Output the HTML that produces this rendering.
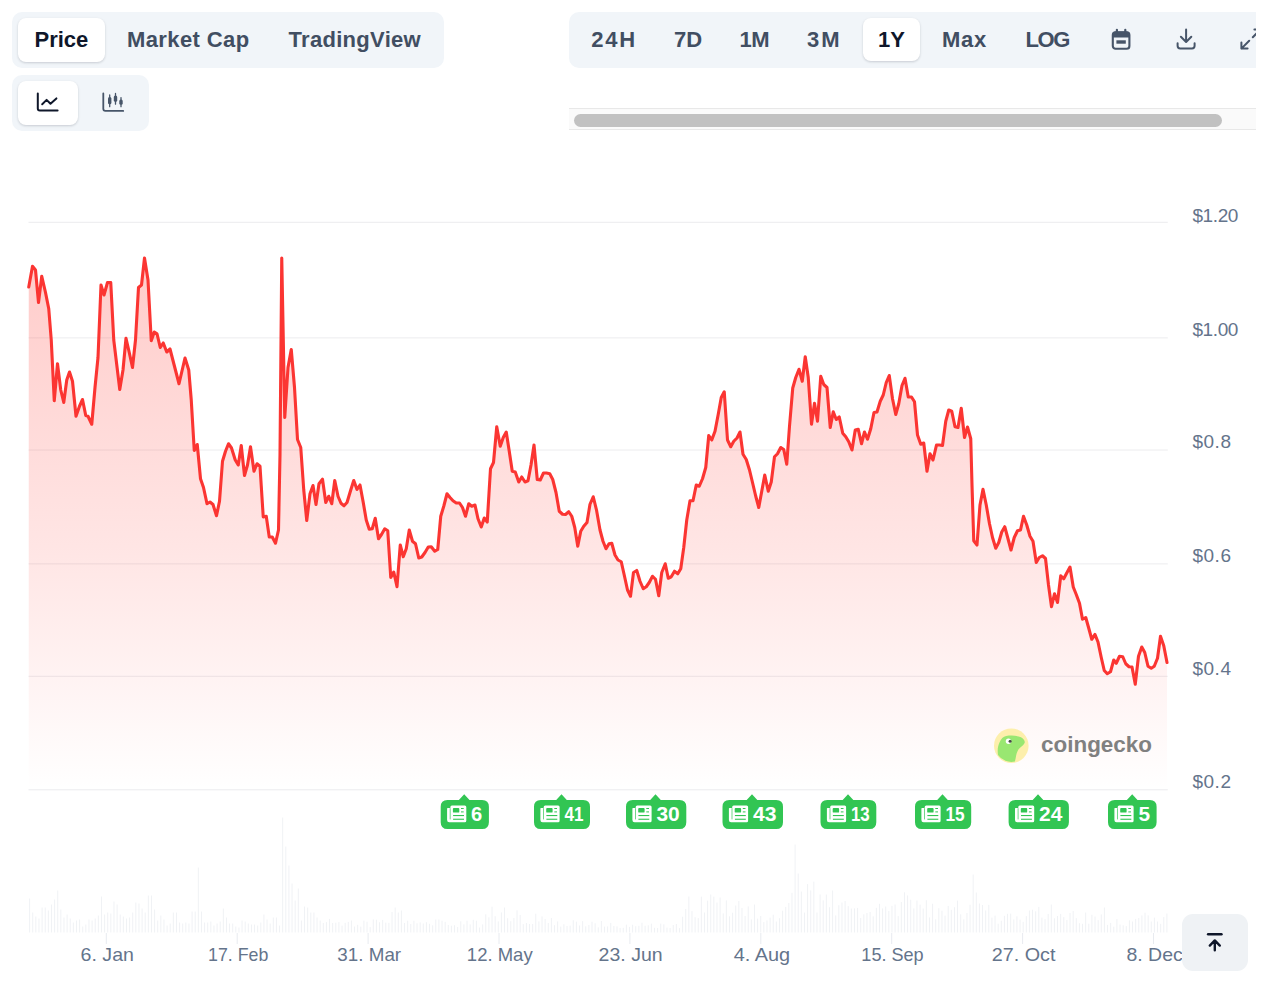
<!DOCTYPE html>
<html><head><meta charset="utf-8"><title>chart</title>
<style>
html,body{margin:0;padding:0;background:#fff;}
body{width:1280px;height:992px;position:relative;overflow:hidden;font-family:"Liberation Sans",sans-serif;}
.grp{position:absolute;background:#f1f5f9;border-radius:10px;}
.act{position:absolute;background:#fff;border-radius:8px;box-shadow:0 1px 3px rgba(15,23,42,.12),0 1px 2px rgba(15,23,42,.06);}
.t{position:absolute;font-weight:700;font-size:22px;line-height:26px;color:#414e62;white-space:nowrap;top:27px;}
.t.on{color:#0f172a;}
.ico{position:absolute;}
</style></head><body>
<!-- tab group -->
<div class="grp" style="left:12px;top:11.5px;width:432px;height:56px"></div>
<div class="act" style="left:18px;top:17.5px;width:87px;height:44px"></div>
<span class="t on" style="left:34.5px">Price</span>
<span class="t" style="left:127px;letter-spacing:0.4px">Market Cap</span>
<span class="t" style="left:288.5px;letter-spacing:0.3px">TradingView</span>

<!-- chart type group -->
<div class="grp" style="left:12px;top:75px;width:137px;height:55.5px"></div>
<div class="act" style="left:18px;top:81px;width:59.5px;height:43.5px"></div>
<svg class="ico" style="left:36px;top:90px" width="24" height="24" viewBox="0 0 24 24" fill="none" stroke="#0f172a" stroke-width="2" stroke-linecap="round" stroke-linejoin="round"><path d="M1.8,3.6 V18.6 Q1.8,20.6 3.8,20.6 H21.6"/><path d="M6.2,14.2 L10.6,9.9 L14.5,13.8 L20.4,8.4"/></svg>
<svg class="ico" style="left:100.5px;top:90px" width="24" height="24" viewBox="0 0 24 24" fill="none" stroke="#475569" stroke-width="1.8" stroke-linecap="round" stroke-linejoin="round"><path d="M2.3,3.4 V18.8 Q2.3,20.9 4.4,20.9 H22.2"/><path d="M8.7,5 V16.7 M14.5,3.5 V14.2 M20,7.6 V16.7" stroke-width="1.3"/><rect x="7.0" y="7" width="3.4" height="7.2" rx="1.5" fill="#475569" stroke="none"/><rect x="12.8" y="5.4" width="3.4" height="6.4" rx="1.5" fill="#475569" stroke="none"/><rect x="18.3" y="9.5" width="3.4" height="5.2" rx="1.5" fill="#475569" stroke="none"/></svg>

<!-- range group (clipped at 1256) -->
<div style="position:absolute;left:568.5px;top:0;width:687.5px;height:140px;overflow:hidden">
  <div class="grp" style="left:0;top:11.5px;width:760px;height:56px"></div>
  <div class="act" style="left:294px;top:18px;width:57.5px;height:43px"></div>
  <span class="t" style="left:22.8px;letter-spacing:1.8px">24H</span>
  <span class="t" style="left:105.5px">7D</span>
  <span class="t" style="left:171px;letter-spacing:-0.6px">1M</span>
  <span class="t" style="left:238.5px;letter-spacing:2px">3M</span>
  <span class="t on" style="left:309.5px">1Y</span>
  <span class="t" style="left:373.5px;letter-spacing:0.7px">Max</span>
  <span class="t" style="left:457px;letter-spacing:-1.4px">LOG</span>
  <svg class="ico" style="left:540px;top:27px" width="24" height="24" viewBox="0 0 24 24" fill="none" stroke="#475569" stroke-width="2.1" stroke-linejoin="round" stroke-linecap="round"><rect x="3.8" y="5.2" width="16.6" height="16.6" rx="2.8"/><path d="M4,9.9 V7.8 Q4,5.2 6.6,5.2 H17.6 Q20.2,5.2 20.2,7.8 V9.9 Z" fill="#475569" stroke-width="1.4"/><path d="M7.9,2.8 V5.4 M16.3,2.8 V5.4" stroke-width="2.2"/><rect x="7.4" y="13.3" width="9.4" height="3.4" fill="#475569" stroke="none"/></svg>
  <svg class="ico" style="left:605.5px;top:27px" width="24" height="24" viewBox="0 0 24 24" fill="none" stroke="#475569" stroke-width="2" stroke-linejoin="round" stroke-linecap="round"><path d="M12.1,2.6 V14.8 M6.9,9.8 L12.1,15 L17.3,9.8"/><path d="M3.6,16.2 V18.8 Q3.6,21.4 6.2,21.4 H18 Q20.6,21.4 20.6,18.8 V16.2"/></svg>
  <svg class="ico" style="left:670.9px;top:27px" width="24" height="24" viewBox="0 0 24 24" fill="none" stroke="#475569" stroke-width="2" stroke-linejoin="round" stroke-linecap="round"><path d="M2.4,15.4 V21.6 H8.6 M2.4,21.6 L10.2,13.8 M15.4,2.4 H21.6 V8.6 M21.6,2.4 L13.8,10.2"/></svg>
  <!-- scrollbar -->
  <div style="position:absolute;left:0;top:108px;width:760px;height:22px;background:#fafafa;border-top:1px solid #e8e8e8;border-bottom:1px solid #e8e8e8;box-sizing:border-box"></div>
  <div style="position:absolute;left:5px;top:114px;width:648.5px;height:12.5px;border-radius:7px;background:#c1c1c1"></div>
</div>

<svg id="chart" width="1280" height="992" viewBox="0 0 1280 992" style="position:absolute;left:0;top:0">
<defs>
<linearGradient id="ag" x1="0" y1="258" x2="0" y2="790" gradientUnits="userSpaceOnUse">
<stop offset="0" stop-color="#ff3a33" stop-opacity="0.26"/>
<stop offset="0.55" stop-color="#ff3a33" stop-opacity="0.13"/>
<stop offset="1" stop-color="#ff3a33" stop-opacity="0.0"/>
</linearGradient>
</defs>
<line x1="28.5" x2="1167.8" y1="222.3" y2="222.3" stroke="#ececee" stroke-width="1"/><line x1="28.5" x2="1167.8" y1="337.9" y2="337.9" stroke="#ececee" stroke-width="1"/><line x1="28.5" x2="1167.8" y1="450.0" y2="450.0" stroke="#ececee" stroke-width="1"/><line x1="28.5" x2="1167.8" y1="563.9" y2="563.9" stroke="#ececee" stroke-width="1"/><line x1="28.5" x2="1167.8" y1="676.3" y2="676.3" stroke="#ececee" stroke-width="1"/><line x1="28.5" x2="1167.8" y1="789.8" y2="789.8" stroke="#ececee" stroke-width="1"/>
<path d="M28.75,287.00 L32.50,266.25 L35.50,270.00 L38.50,302.50 L41.75,276.25 L45.50,292.50 L48.75,308.75 L51.25,340.00 L54.25,400.75 L57.50,363.75 L60.75,390.00 L63.75,402.50 L66.75,380.00 L69.50,372.00 L72.50,381.25 L76.00,416.25 L79.50,406.25 L82.50,399.50 L85.75,415.50 L88.00,416.25 L91.75,424.25 L95.00,387.50 L98.00,357.50 L101.00,285.00 L104.00,295.00 L107.50,282.50 L110.75,282.50 L113.75,340.00 L119.75,389.50 L123.00,370.00 L126.00,338.25 L129.25,352.50 L132.50,367.50 L135.50,340.00 L138.50,287.50 L141.50,285.00 L144.50,258.00 L148.00,280.00 L151.25,340.75 L154.25,332.00 L157.00,333.75 L160.25,347.50 L163.25,343.00 L166.75,352.00 L170.00,349.00 L179.00,383.75 L185.00,358.00 L188.75,370.00 L191.25,400.00 L194.25,450.50 L197.25,444.50 L200.50,478.75 L203.50,487.50 L207.00,503.75 L210.00,502.00 L213.00,504.50 L216.50,515.75 L219.50,501.25 L222.50,461.25 L225.50,451.25 L228.50,443.75 L231.50,448.00 L235.25,460.00 L238.25,465.00 L241.25,445.50 L244.50,475.50 L247.50,465.00 L250.50,446.75 L254.00,471.25 L257.00,463.75 L260.00,466.25 L263.25,517.00 L266.25,516.25 L269.25,537.00 L272.25,537.00 L275.50,543.25 L278.50,530.00 L280.00,455.00 L281.75,258.00 L284.75,417.50 L288.00,367.50 L291.25,349.50 L294.50,387.50 L297.50,439.50 L300.75,447.50 L303.75,490.00 L306.75,520.50 L310.00,493.75 L313.00,485.50 L316.00,504.50 L319.00,483.75 L322.50,479.25 L325.75,502.50 L328.75,496.25 L331.75,503.75 L334.75,480.50 L338.00,496.25 L341.00,503.25 L344.00,505.75 L347.00,502.50 L350.75,490.00 L353.75,480.50 L357.00,489.50 L360.00,485.00 L363.25,502.50 L366.25,520.00 L369.25,529.25 L372.25,528.75 L375.25,518.25 L378.50,538.75 L381.50,534.50 L384.75,528.75 L387.75,530.75 L390.75,577.50 L393.75,572.00 L397.00,586.75 L400.25,545.00 L403.25,556.75 L406.25,548.75 L409.25,530.00 L412.50,541.25 L415.50,543.75 L418.75,558.00 L421.75,557.00 L425.00,552.50 L428.25,547.00 L431.25,546.75 L434.75,551.25 L437.75,549.50 L440.75,516.25 L443.75,506.25 L447.00,493.75 L450.00,497.50 L453.00,500.75 L456.25,503.00 L459.50,503.00 L462.50,507.50 L465.50,516.25 L468.75,503.75 L471.75,506.25 L475.00,505.00 L478.00,518.75 L481.25,527.00 L484.25,518.00 L487.25,522.00 L490.50,468.75 L493.50,462.50 L496.75,426.75 L500.25,446.25 L503.25,437.50 L506.25,432.00 L509.25,451.25 L512.25,471.25 L515.25,472.00 L518.75,482.00 L521.75,477.00 L525.00,482.00 L528.00,480.75 L531.00,465.00 L534.00,445.00 L537.25,479.50 L540.25,480.00 L543.50,473.00 L546.50,473.00 L549.75,473.75 L552.75,479.50 L556.00,492.50 L559.25,511.25 L562.50,514.25 L565.50,514.50 L568.75,511.75 L571.75,516.25 L574.75,527.50 L577.75,546.25 L580.75,531.25 L583.75,526.25 L587.00,522.50 L590.00,504.25 L593.25,496.75 L596.50,510.00 L600.00,530.00 L603.00,541.25 L606.00,548.75 L609.00,543.75 L611.75,543.25 L615.00,555.00 L618.00,560.00 L621.25,561.75 L624.50,576.25 L627.50,590.00 L630.50,596.25 L633.50,572.50 L636.75,570.50 L640.00,581.25 L643.25,588.75 L646.25,586.75 L649.25,582.50 L652.50,576.25 L655.50,579.25 L658.75,595.75 L661.75,572.50 L665.25,563.75 L668.25,578.25 L671.25,576.75 L674.50,571.25 L677.75,573.75 L680.75,568.75 L683.75,547.50 L686.75,520.00 L690.00,500.75 L693.00,500.75 L696.25,485.00 L699.25,486.25 L702.50,478.75 L705.75,467.50 L708.75,435.50 L711.75,440.00 L715.00,431.25 L718.25,414.25 L721.25,397.50 L724.25,391.75 L727.50,440.00 L730.75,446.75 L733.75,441.25 L737.00,438.00 L740.00,432.00 L743.00,454.25 L746.25,459.50 L749.50,470.00 L752.50,482.50 L755.75,496.25 L758.75,507.50 L761.75,491.25 L764.75,475.00 L768.25,491.25 L771.25,482.00 L774.50,456.75 L777.50,453.75 L780.75,447.50 L783.75,449.50 L786.75,464.25 L789.50,426.25 L792.75,388.00 L795.75,377.50 L799.00,369.25 L802.25,381.25 L805.25,356.75 L808.25,377.50 L811.50,424.25 L814.50,403.25 L817.50,421.25 L820.75,376.25 L823.75,384.50 L827.00,387.50 L830.25,427.50 L833.25,411.75 L836.25,419.50 L839.25,417.00 L842.75,433.25 L845.75,436.75 L848.75,441.75 L852.00,450.00 L855.25,430.00 L858.25,429.25 L861.50,443.75 L864.50,432.00 L867.50,439.25 L870.75,428.75 L874.00,412.50 L877.00,412.00 L880.25,401.25 L883.25,395.00 L886.25,382.50 L889.25,375.50 L892.50,398.75 L895.75,414.50 L898.75,403.75 L902.00,385.50 L905.00,378.25 L908.25,397.00 L911.50,397.00 L914.50,401.75 L917.50,435.00 L920.75,444.25 L923.75,443.00 L927.00,471.25 L930.00,453.75 L933.00,460.00 L936.50,445.00 L939.50,445.00 L942.50,445.50 L945.75,421.25 L948.75,410.00 L951.75,411.25 L955.00,426.75 L958.00,427.50 L961.25,408.25 L964.50,437.50 L967.50,427.00 L970.75,438.75 L972.00,485.00 L973.75,540.75 L977.00,545.00 L980.00,505.00 L983.00,489.25 L986.25,505.00 L989.50,523.75 L992.50,537.50 L995.75,548.25 L998.75,542.50 L1001.75,532.00 L1004.75,526.75 L1008.00,538.75 L1011.00,550.00 L1014.25,537.50 L1017.50,530.75 L1020.50,530.00 L1023.50,516.25 L1026.75,525.00 L1030.00,536.25 L1033.00,541.25 L1036.25,562.50 L1039.25,557.50 L1042.50,555.75 L1045.50,558.50 L1048.50,585.00 L1051.50,606.75 L1054.50,593.75 L1057.50,602.50 L1060.75,575.75 L1063.75,578.75 L1066.75,573.00 L1070.00,567.00 L1073.25,587.00 L1076.25,594.50 L1079.50,603.25 L1082.50,619.25 L1085.75,617.50 L1088.75,628.25 L1091.75,639.25 L1095.00,634.50 L1098.00,642.00 L1101.25,657.50 L1104.25,670.50 L1107.25,673.75 L1110.50,671.75 L1113.75,660.00 L1116.25,663.25 L1119.50,656.25 L1122.75,656.75 L1125.75,663.75 L1129.00,666.75 L1132.00,667.00 L1135.25,684.25 L1138.50,656.25 L1141.75,647.00 L1144.75,652.50 L1148.00,666.25 L1151.25,668.25 L1154.25,666.25 L1157.50,658.25 L1160.50,636.25 L1163.75,645.75 L1167.00,662.50 L1167.00,790 L28.75,790 Z" fill="url(#ag)" stroke="none"/>
<path d="M28.75,287.00 L32.50,266.25 L35.50,270.00 L38.50,302.50 L41.75,276.25 L45.50,292.50 L48.75,308.75 L51.25,340.00 L54.25,400.75 L57.50,363.75 L60.75,390.00 L63.75,402.50 L66.75,380.00 L69.50,372.00 L72.50,381.25 L76.00,416.25 L79.50,406.25 L82.50,399.50 L85.75,415.50 L88.00,416.25 L91.75,424.25 L95.00,387.50 L98.00,357.50 L101.00,285.00 L104.00,295.00 L107.50,282.50 L110.75,282.50 L113.75,340.00 L119.75,389.50 L123.00,370.00 L126.00,338.25 L129.25,352.50 L132.50,367.50 L135.50,340.00 L138.50,287.50 L141.50,285.00 L144.50,258.00 L148.00,280.00 L151.25,340.75 L154.25,332.00 L157.00,333.75 L160.25,347.50 L163.25,343.00 L166.75,352.00 L170.00,349.00 L179.00,383.75 L185.00,358.00 L188.75,370.00 L191.25,400.00 L194.25,450.50 L197.25,444.50 L200.50,478.75 L203.50,487.50 L207.00,503.75 L210.00,502.00 L213.00,504.50 L216.50,515.75 L219.50,501.25 L222.50,461.25 L225.50,451.25 L228.50,443.75 L231.50,448.00 L235.25,460.00 L238.25,465.00 L241.25,445.50 L244.50,475.50 L247.50,465.00 L250.50,446.75 L254.00,471.25 L257.00,463.75 L260.00,466.25 L263.25,517.00 L266.25,516.25 L269.25,537.00 L272.25,537.00 L275.50,543.25 L278.50,530.00 L280.00,455.00 L281.75,258.00 L284.75,417.50 L288.00,367.50 L291.25,349.50 L294.50,387.50 L297.50,439.50 L300.75,447.50 L303.75,490.00 L306.75,520.50 L310.00,493.75 L313.00,485.50 L316.00,504.50 L319.00,483.75 L322.50,479.25 L325.75,502.50 L328.75,496.25 L331.75,503.75 L334.75,480.50 L338.00,496.25 L341.00,503.25 L344.00,505.75 L347.00,502.50 L350.75,490.00 L353.75,480.50 L357.00,489.50 L360.00,485.00 L363.25,502.50 L366.25,520.00 L369.25,529.25 L372.25,528.75 L375.25,518.25 L378.50,538.75 L381.50,534.50 L384.75,528.75 L387.75,530.75 L390.75,577.50 L393.75,572.00 L397.00,586.75 L400.25,545.00 L403.25,556.75 L406.25,548.75 L409.25,530.00 L412.50,541.25 L415.50,543.75 L418.75,558.00 L421.75,557.00 L425.00,552.50 L428.25,547.00 L431.25,546.75 L434.75,551.25 L437.75,549.50 L440.75,516.25 L443.75,506.25 L447.00,493.75 L450.00,497.50 L453.00,500.75 L456.25,503.00 L459.50,503.00 L462.50,507.50 L465.50,516.25 L468.75,503.75 L471.75,506.25 L475.00,505.00 L478.00,518.75 L481.25,527.00 L484.25,518.00 L487.25,522.00 L490.50,468.75 L493.50,462.50 L496.75,426.75 L500.25,446.25 L503.25,437.50 L506.25,432.00 L509.25,451.25 L512.25,471.25 L515.25,472.00 L518.75,482.00 L521.75,477.00 L525.00,482.00 L528.00,480.75 L531.00,465.00 L534.00,445.00 L537.25,479.50 L540.25,480.00 L543.50,473.00 L546.50,473.00 L549.75,473.75 L552.75,479.50 L556.00,492.50 L559.25,511.25 L562.50,514.25 L565.50,514.50 L568.75,511.75 L571.75,516.25 L574.75,527.50 L577.75,546.25 L580.75,531.25 L583.75,526.25 L587.00,522.50 L590.00,504.25 L593.25,496.75 L596.50,510.00 L600.00,530.00 L603.00,541.25 L606.00,548.75 L609.00,543.75 L611.75,543.25 L615.00,555.00 L618.00,560.00 L621.25,561.75 L624.50,576.25 L627.50,590.00 L630.50,596.25 L633.50,572.50 L636.75,570.50 L640.00,581.25 L643.25,588.75 L646.25,586.75 L649.25,582.50 L652.50,576.25 L655.50,579.25 L658.75,595.75 L661.75,572.50 L665.25,563.75 L668.25,578.25 L671.25,576.75 L674.50,571.25 L677.75,573.75 L680.75,568.75 L683.75,547.50 L686.75,520.00 L690.00,500.75 L693.00,500.75 L696.25,485.00 L699.25,486.25 L702.50,478.75 L705.75,467.50 L708.75,435.50 L711.75,440.00 L715.00,431.25 L718.25,414.25 L721.25,397.50 L724.25,391.75 L727.50,440.00 L730.75,446.75 L733.75,441.25 L737.00,438.00 L740.00,432.00 L743.00,454.25 L746.25,459.50 L749.50,470.00 L752.50,482.50 L755.75,496.25 L758.75,507.50 L761.75,491.25 L764.75,475.00 L768.25,491.25 L771.25,482.00 L774.50,456.75 L777.50,453.75 L780.75,447.50 L783.75,449.50 L786.75,464.25 L789.50,426.25 L792.75,388.00 L795.75,377.50 L799.00,369.25 L802.25,381.25 L805.25,356.75 L808.25,377.50 L811.50,424.25 L814.50,403.25 L817.50,421.25 L820.75,376.25 L823.75,384.50 L827.00,387.50 L830.25,427.50 L833.25,411.75 L836.25,419.50 L839.25,417.00 L842.75,433.25 L845.75,436.75 L848.75,441.75 L852.00,450.00 L855.25,430.00 L858.25,429.25 L861.50,443.75 L864.50,432.00 L867.50,439.25 L870.75,428.75 L874.00,412.50 L877.00,412.00 L880.25,401.25 L883.25,395.00 L886.25,382.50 L889.25,375.50 L892.50,398.75 L895.75,414.50 L898.75,403.75 L902.00,385.50 L905.00,378.25 L908.25,397.00 L911.50,397.00 L914.50,401.75 L917.50,435.00 L920.75,444.25 L923.75,443.00 L927.00,471.25 L930.00,453.75 L933.00,460.00 L936.50,445.00 L939.50,445.00 L942.50,445.50 L945.75,421.25 L948.75,410.00 L951.75,411.25 L955.00,426.75 L958.00,427.50 L961.25,408.25 L964.50,437.50 L967.50,427.00 L970.75,438.75 L972.00,485.00 L973.75,540.75 L977.00,545.00 L980.00,505.00 L983.00,489.25 L986.25,505.00 L989.50,523.75 L992.50,537.50 L995.75,548.25 L998.75,542.50 L1001.75,532.00 L1004.75,526.75 L1008.00,538.75 L1011.00,550.00 L1014.25,537.50 L1017.50,530.75 L1020.50,530.00 L1023.50,516.25 L1026.75,525.00 L1030.00,536.25 L1033.00,541.25 L1036.25,562.50 L1039.25,557.50 L1042.50,555.75 L1045.50,558.50 L1048.50,585.00 L1051.50,606.75 L1054.50,593.75 L1057.50,602.50 L1060.75,575.75 L1063.75,578.75 L1066.75,573.00 L1070.00,567.00 L1073.25,587.00 L1076.25,594.50 L1079.50,603.25 L1082.50,619.25 L1085.75,617.50 L1088.75,628.25 L1091.75,639.25 L1095.00,634.50 L1098.00,642.00 L1101.25,657.50 L1104.25,670.50 L1107.25,673.75 L1110.50,671.75 L1113.75,660.00 L1116.25,663.25 L1119.50,656.25 L1122.75,656.75 L1125.75,663.75 L1129.00,666.75 L1132.00,667.00 L1135.25,684.25 L1138.50,656.25 L1141.75,647.00 L1144.75,652.50 L1148.00,666.25 L1151.25,668.25 L1154.25,666.25 L1157.50,658.25 L1160.50,636.25 L1163.75,645.75 L1167.00,662.50" fill="none" stroke="#fb3532" stroke-width="3.1" stroke-linejoin="round" stroke-linecap="round"/>
<g fill="#f0f2f5"><rect x="29.10" y="898.5" width="1" height="34.0"/><rect x="32.22" y="912.5" width="1" height="20.0"/><rect x="35.35" y="916.5" width="1" height="16.0"/><rect x="38.47" y="918.5" width="1" height="14.0"/><rect x="41.60" y="907.5" width="1" height="25.0"/><rect x="44.72" y="907.5" width="1" height="25.0"/><rect x="47.85" y="910.5" width="1" height="22.0"/><rect x="50.97" y="904.5" width="1" height="28.0"/><rect x="54.10" y="899.5" width="1" height="33.0"/><rect x="57.22" y="890.5" width="1" height="42.0"/><rect x="60.34" y="909.5" width="1" height="23.0"/><rect x="63.47" y="917.5" width="1" height="15.0"/><rect x="66.59" y="914.5" width="1" height="18.0"/><rect x="69.72" y="918.5" width="1" height="14.0"/><rect x="72.84" y="922.5" width="1" height="10.0"/><rect x="75.97" y="920.5" width="1" height="12.0"/><rect x="79.09" y="919.5" width="1" height="13.0"/><rect x="82.22" y="926.5" width="1" height="6.0"/><rect x="85.34" y="924.5" width="1" height="8.0"/><rect x="88.46" y="919.5" width="1" height="13.0"/><rect x="91.59" y="920.5" width="1" height="12.0"/><rect x="94.71" y="918.5" width="1" height="14.0"/><rect x="97.84" y="915.5" width="1" height="17.0"/><rect x="100.96" y="896.5" width="1" height="36.0"/><rect x="104.09" y="914.5" width="1" height="18.0"/><rect x="107.21" y="912.5" width="1" height="20.0"/><rect x="110.34" y="913.5" width="1" height="19.0"/><rect x="113.46" y="901.5" width="1" height="31.0"/><rect x="116.58" y="904.5" width="1" height="28.0"/><rect x="119.71" y="914.5" width="1" height="18.0"/><rect x="122.83" y="916.5" width="1" height="16.0"/><rect x="125.96" y="918.5" width="1" height="14.0"/><rect x="129.08" y="917.5" width="1" height="15.0"/><rect x="132.21" y="912.5" width="1" height="20.0"/><rect x="135.33" y="902.5" width="1" height="30.0"/><rect x="138.46" y="903.5" width="1" height="29.0"/><rect x="141.58" y="908.5" width="1" height="24.0"/><rect x="144.70" y="912.5" width="1" height="20.0"/><rect x="147.83" y="895.5" width="1" height="37.0"/><rect x="150.95" y="895.5" width="1" height="37.0"/><rect x="154.08" y="909.5" width="1" height="23.0"/><rect x="157.20" y="920.5" width="1" height="12.0"/><rect x="160.33" y="915.5" width="1" height="17.0"/><rect x="163.45" y="919.5" width="1" height="13.0"/><rect x="166.58" y="925.5" width="1" height="7.0"/><rect x="169.70" y="923.5" width="1" height="9.0"/><rect x="172.82" y="912.5" width="1" height="20.0"/><rect x="175.95" y="912.5" width="1" height="20.0"/><rect x="179.07" y="922.5" width="1" height="10.0"/><rect x="182.20" y="923.5" width="1" height="9.0"/><rect x="185.32" y="922.5" width="1" height="10.0"/><rect x="188.45" y="923.5" width="1" height="9.0"/><rect x="191.57" y="911.5" width="1" height="21.0"/><rect x="194.70" y="911.5" width="1" height="21.0"/><rect x="197.82" y="867.5" width="1" height="65.0"/><rect x="200.94" y="911.5" width="1" height="21.0"/><rect x="204.07" y="922.5" width="1" height="10.0"/><rect x="207.19" y="922.5" width="1" height="10.0"/><rect x="210.32" y="921.5" width="1" height="11.0"/><rect x="213.44" y="925.5" width="1" height="7.0"/><rect x="216.57" y="923.5" width="1" height="9.0"/><rect x="219.69" y="921.5" width="1" height="11.0"/><rect x="222.82" y="908.5" width="1" height="24.0"/><rect x="225.94" y="917.5" width="1" height="15.0"/><rect x="229.06" y="923.5" width="1" height="9.0"/><rect x="232.19" y="923.5" width="1" height="9.0"/><rect x="235.31" y="926.5" width="1" height="6.0"/><rect x="238.44" y="927.5" width="1" height="5.0"/><rect x="241.56" y="920.5" width="1" height="12.0"/><rect x="244.69" y="921.5" width="1" height="11.0"/><rect x="247.81" y="923.5" width="1" height="9.0"/><rect x="250.94" y="924.5" width="1" height="8.0"/><rect x="254.06" y="924.5" width="1" height="8.0"/><rect x="257.18" y="925.5" width="1" height="7.0"/><rect x="260.31" y="922.5" width="1" height="10.0"/><rect x="263.43" y="914.5" width="1" height="18.0"/><rect x="266.56" y="919.5" width="1" height="13.0"/><rect x="269.68" y="923.5" width="1" height="9.0"/><rect x="272.81" y="917.5" width="1" height="15.0"/><rect x="275.93" y="917.5" width="1" height="15.0"/><rect x="279.06" y="925.5" width="1" height="7.0"/><rect x="282.18" y="817.5" width="1" height="115.0"/><rect x="285.30" y="846.5" width="1" height="86.0"/><rect x="288.43" y="865.5" width="1" height="67.0"/><rect x="291.55" y="883.5" width="1" height="49.0"/><rect x="294.68" y="900.5" width="1" height="32.0"/><rect x="297.80" y="888.5" width="1" height="44.0"/><rect x="300.93" y="920.5" width="1" height="12.0"/><rect x="304.05" y="906.5" width="1" height="26.0"/><rect x="307.18" y="907.5" width="1" height="25.0"/><rect x="310.30" y="912.5" width="1" height="20.0"/><rect x="313.43" y="912.5" width="1" height="20.0"/><rect x="316.55" y="917.5" width="1" height="15.0"/><rect x="319.67" y="920.5" width="1" height="12.0"/><rect x="322.80" y="923.0" width="1" height="9.5"/><rect x="325.92" y="922.1" width="1" height="10.4"/><rect x="329.05" y="918.9" width="1" height="13.6"/><rect x="332.17" y="923.0" width="1" height="9.5"/><rect x="335.30" y="922.7" width="1" height="9.8"/><rect x="338.42" y="922.1" width="1" height="10.4"/><rect x="341.55" y="925.6" width="1" height="6.9"/><rect x="344.67" y="922.8" width="1" height="9.7"/><rect x="347.79" y="921.9" width="1" height="10.6"/><rect x="350.92" y="920.5" width="1" height="12.0"/><rect x="354.04" y="926.5" width="1" height="6.0"/><rect x="357.17" y="924.8" width="1" height="7.7"/><rect x="360.29" y="926.6" width="1" height="5.9"/><rect x="363.42" y="920.6" width="1" height="11.9"/><rect x="366.54" y="921.7" width="1" height="10.8"/><rect x="369.67" y="927.1" width="1" height="5.4"/><rect x="372.79" y="919.4" width="1" height="13.1"/><rect x="375.91" y="919.7" width="1" height="12.8"/><rect x="379.04" y="922.2" width="1" height="10.3"/><rect x="382.16" y="919.9" width="1" height="12.6"/><rect x="385.29" y="922.6" width="1" height="9.9"/><rect x="388.41" y="922.8" width="1" height="9.7"/><rect x="391.54" y="912.0" width="1" height="20.5"/><rect x="394.66" y="907.5" width="1" height="25.0"/><rect x="397.79" y="912.5" width="1" height="20.0"/><rect x="400.91" y="910.5" width="1" height="22.0"/><rect x="404.03" y="923.0" width="1" height="9.5"/><rect x="407.16" y="920.7" width="1" height="11.8"/><rect x="410.28" y="924.0" width="1" height="8.5"/><rect x="413.41" y="920.7" width="1" height="11.8"/><rect x="416.53" y="923.3" width="1" height="9.2"/><rect x="419.66" y="922.4" width="1" height="10.1"/><rect x="422.78" y="923.5" width="1" height="9.0"/><rect x="425.91" y="922.2" width="1" height="10.3"/><rect x="429.03" y="923.8" width="1" height="8.7"/><rect x="432.15" y="925.3" width="1" height="7.2"/><rect x="435.28" y="919.5" width="1" height="13.0"/><rect x="438.40" y="919.5" width="1" height="13.0"/><rect x="441.53" y="920.7" width="1" height="11.8"/><rect x="444.65" y="921.8" width="1" height="10.7"/><rect x="447.78" y="925.0" width="1" height="7.5"/><rect x="450.90" y="925.7" width="1" height="6.8"/><rect x="454.03" y="925.2" width="1" height="7.3"/><rect x="457.15" y="927.0" width="1" height="5.5"/><rect x="460.27" y="921.3" width="1" height="11.2"/><rect x="463.40" y="924.3" width="1" height="8.2"/><rect x="466.52" y="920.7" width="1" height="11.8"/><rect x="469.65" y="924.4" width="1" height="8.1"/><rect x="472.77" y="919.8" width="1" height="12.7"/><rect x="475.90" y="920.7" width="1" height="11.8"/><rect x="479.02" y="927.5" width="1" height="5.0"/><rect x="482.15" y="924.4" width="1" height="8.1"/><rect x="485.27" y="914.3" width="1" height="18.2"/><rect x="488.39" y="917.3" width="1" height="15.2"/><rect x="491.52" y="906.7" width="1" height="25.8"/><rect x="494.64" y="916.2" width="1" height="16.3"/><rect x="497.77" y="921.4" width="1" height="11.1"/><rect x="500.89" y="912.4" width="1" height="20.1"/><rect x="504.02" y="907.5" width="1" height="25.0"/><rect x="507.14" y="918.2" width="1" height="14.3"/><rect x="510.27" y="921.2" width="1" height="11.3"/><rect x="513.39" y="918.0" width="1" height="14.5"/><rect x="516.51" y="910.3" width="1" height="22.2"/><rect x="519.64" y="914.9" width="1" height="17.6"/><rect x="522.76" y="924.1" width="1" height="8.4"/><rect x="525.89" y="923.0" width="1" height="9.5"/><rect x="529.01" y="924.0" width="1" height="8.5"/><rect x="532.14" y="924.0" width="1" height="8.5"/><rect x="535.26" y="913.7" width="1" height="18.8"/><rect x="538.39" y="921.4" width="1" height="11.1"/><rect x="541.51" y="916.4" width="1" height="16.1"/><rect x="544.63" y="919.0" width="1" height="13.5"/><rect x="547.76" y="923.0" width="1" height="9.5"/><rect x="550.88" y="918.0" width="1" height="14.5"/><rect x="554.01" y="925.2" width="1" height="7.3"/><rect x="557.13" y="921.4" width="1" height="11.1"/><rect x="560.26" y="926.6" width="1" height="5.9"/><rect x="563.38" y="924.2" width="1" height="8.3"/><rect x="566.51" y="926.0" width="1" height="6.5"/><rect x="569.63" y="925.6" width="1" height="6.9"/><rect x="572.75" y="920.2" width="1" height="12.3"/><rect x="575.88" y="921.6" width="1" height="10.9"/><rect x="579.00" y="925.5" width="1" height="7.0"/><rect x="582.13" y="921.1" width="1" height="11.4"/><rect x="585.25" y="926.3" width="1" height="6.2"/><rect x="588.38" y="925.0" width="1" height="7.5"/><rect x="591.50" y="921.7" width="1" height="10.8"/><rect x="594.63" y="923.3" width="1" height="9.2"/><rect x="597.75" y="927.3" width="1" height="5.2"/><rect x="600.87" y="921.0" width="1" height="11.5"/><rect x="604.00" y="926.6" width="1" height="5.9"/><rect x="607.12" y="926.4" width="1" height="6.1"/><rect x="610.25" y="922.9" width="1" height="9.6"/><rect x="613.37" y="926.0" width="1" height="6.5"/><rect x="616.50" y="926.3" width="1" height="6.2"/><rect x="619.62" y="927.9" width="1" height="4.6"/><rect x="622.75" y="927.8" width="1" height="4.7"/><rect x="625.87" y="924.6" width="1" height="7.9"/><rect x="628.99" y="926.9" width="1" height="5.6"/><rect x="632.12" y="924.7" width="1" height="7.8"/><rect x="635.24" y="926.2" width="1" height="6.3"/><rect x="638.37" y="925.8" width="1" height="6.7"/><rect x="641.49" y="922.7" width="1" height="9.8"/><rect x="644.62" y="925.7" width="1" height="6.8"/><rect x="647.74" y="925.3" width="1" height="7.2"/><rect x="650.87" y="923.6" width="1" height="8.9"/><rect x="653.99" y="927.8" width="1" height="4.7"/><rect x="657.11" y="928.0" width="1" height="4.5"/><rect x="660.24" y="923.6" width="1" height="8.9"/><rect x="663.36" y="924.3" width="1" height="8.2"/><rect x="666.49" y="927.6" width="1" height="4.9"/><rect x="669.61" y="928.0" width="1" height="4.5"/><rect x="672.74" y="925.0" width="1" height="7.5"/><rect x="675.86" y="924.0" width="1" height="8.5"/><rect x="678.99" y="928.1" width="1" height="4.4"/><rect x="682.11" y="916.7" width="1" height="15.8"/><rect x="685.23" y="909.0" width="1" height="23.5"/><rect x="688.36" y="896.5" width="1" height="36.0"/><rect x="691.48" y="911.1" width="1" height="21.4"/><rect x="694.61" y="917.2" width="1" height="15.3"/><rect x="697.73" y="918.1" width="1" height="14.4"/><rect x="700.86" y="896.6" width="1" height="35.9"/><rect x="703.98" y="912.5" width="1" height="20.0"/><rect x="707.11" y="900.6" width="1" height="31.9"/><rect x="710.23" y="894.5" width="1" height="38.0"/><rect x="713.35" y="896.6" width="1" height="35.9"/><rect x="716.48" y="902.5" width="1" height="30.0"/><rect x="719.60" y="897.5" width="1" height="35.0"/><rect x="722.73" y="913.4" width="1" height="19.1"/><rect x="725.85" y="900.4" width="1" height="32.1"/><rect x="728.98" y="916.3" width="1" height="16.2"/><rect x="732.10" y="912.7" width="1" height="19.8"/><rect x="735.23" y="905.5" width="1" height="27.0"/><rect x="738.35" y="901.0" width="1" height="31.5"/><rect x="741.47" y="907.9" width="1" height="24.6"/><rect x="744.60" y="916.0" width="1" height="16.5"/><rect x="747.72" y="906.4" width="1" height="26.1"/><rect x="750.85" y="919.4" width="1" height="13.1"/><rect x="753.97" y="904.5" width="1" height="28.0"/><rect x="757.10" y="918.6" width="1" height="13.9"/><rect x="760.22" y="916.0" width="1" height="16.5"/><rect x="763.35" y="922.1" width="1" height="10.4"/><rect x="766.47" y="920.4" width="1" height="12.1"/><rect x="769.59" y="917.6" width="1" height="14.9"/><rect x="772.72" y="914.7" width="1" height="17.8"/><rect x="775.84" y="921.5" width="1" height="11.0"/><rect x="778.97" y="918.2" width="1" height="14.3"/><rect x="782.09" y="910.7" width="1" height="21.8"/><rect x="785.22" y="906.9" width="1" height="25.6"/><rect x="788.34" y="903.0" width="1" height="29.5"/><rect x="791.47" y="892.8" width="1" height="39.7"/><rect x="794.59" y="844.5" width="1" height="88.0"/><rect x="797.71" y="873.5" width="1" height="59.0"/><rect x="800.84" y="891.5" width="1" height="41.0"/><rect x="803.96" y="912.6" width="1" height="19.9"/><rect x="807.09" y="884.1" width="1" height="48.4"/><rect x="810.21" y="890.4" width="1" height="42.1"/><rect x="813.34" y="881.6" width="1" height="50.9"/><rect x="816.46" y="912.5" width="1" height="20.0"/><rect x="819.59" y="894.4" width="1" height="38.1"/><rect x="822.71" y="900.3" width="1" height="32.2"/><rect x="825.83" y="894.5" width="1" height="38.0"/><rect x="828.96" y="907.2" width="1" height="25.3"/><rect x="832.08" y="890.5" width="1" height="42.0"/><rect x="835.21" y="915.4" width="1" height="17.1"/><rect x="838.33" y="905.2" width="1" height="27.3"/><rect x="841.46" y="902.5" width="1" height="30.0"/><rect x="844.58" y="900.9" width="1" height="31.6"/><rect x="847.71" y="906.1" width="1" height="26.4"/><rect x="850.83" y="908.5" width="1" height="24.0"/><rect x="853.95" y="908.4" width="1" height="24.1"/><rect x="857.08" y="907.9" width="1" height="24.6"/><rect x="860.20" y="918.0" width="1" height="14.5"/><rect x="863.33" y="914.3" width="1" height="18.2"/><rect x="866.45" y="912.9" width="1" height="19.6"/><rect x="869.58" y="912.0" width="1" height="20.5"/><rect x="872.70" y="916.3" width="1" height="16.2"/><rect x="875.83" y="907.8" width="1" height="24.7"/><rect x="878.95" y="903.8" width="1" height="28.7"/><rect x="882.08" y="908.4" width="1" height="24.1"/><rect x="885.20" y="906.5" width="1" height="26.0"/><rect x="888.32" y="910.9" width="1" height="21.6"/><rect x="891.45" y="905.8" width="1" height="26.7"/><rect x="894.57" y="904.4" width="1" height="28.1"/><rect x="897.70" y="916.1" width="1" height="16.4"/><rect x="900.82" y="902.0" width="1" height="30.5"/><rect x="903.95" y="892.3" width="1" height="40.2"/><rect x="907.07" y="895.4" width="1" height="37.1"/><rect x="910.20" y="899.7" width="1" height="32.8"/><rect x="913.32" y="908.4" width="1" height="24.1"/><rect x="916.44" y="900.5" width="1" height="32.0"/><rect x="919.57" y="904.6" width="1" height="27.9"/><rect x="922.69" y="908.5" width="1" height="24.0"/><rect x="925.82" y="900.2" width="1" height="32.3"/><rect x="928.94" y="917.4" width="1" height="15.1"/><rect x="932.07" y="903.7" width="1" height="28.8"/><rect x="935.19" y="919.3" width="1" height="13.2"/><rect x="938.32" y="908.2" width="1" height="24.3"/><rect x="941.44" y="910.7" width="1" height="21.8"/><rect x="944.56" y="915.6" width="1" height="16.9"/><rect x="947.69" y="905.9" width="1" height="26.6"/><rect x="950.81" y="909.8" width="1" height="22.7"/><rect x="953.94" y="907.2" width="1" height="25.3"/><rect x="957.06" y="900.6" width="1" height="31.9"/><rect x="960.19" y="914.3" width="1" height="18.2"/><rect x="963.31" y="919.3" width="1" height="13.2"/><rect x="966.44" y="913.0" width="1" height="19.5"/><rect x="969.56" y="904.7" width="1" height="27.8"/><rect x="972.68" y="874.5" width="1" height="58.0"/><rect x="975.81" y="892.5" width="1" height="40.0"/><rect x="978.93" y="903.5" width="1" height="29.0"/><rect x="982.06" y="905.0" width="1" height="27.5"/><rect x="985.18" y="910.4" width="1" height="22.1"/><rect x="988.31" y="904.8" width="1" height="27.7"/><rect x="991.43" y="917.6" width="1" height="14.9"/><rect x="994.56" y="915.6" width="1" height="16.9"/><rect x="997.68" y="923.7" width="1" height="8.8"/><rect x="1000.80" y="920.7" width="1" height="11.8"/><rect x="1003.93" y="915.8" width="1" height="16.7"/><rect x="1007.05" y="913.8" width="1" height="18.7"/><rect x="1010.18" y="913.6" width="1" height="18.9"/><rect x="1013.30" y="919.4" width="1" height="13.1"/><rect x="1016.43" y="916.3" width="1" height="16.2"/><rect x="1019.55" y="919.6" width="1" height="12.9"/><rect x="1022.68" y="921.8" width="1" height="10.7"/><rect x="1025.80" y="916.1" width="1" height="16.4"/><rect x="1028.92" y="910.5" width="1" height="22.0"/><rect x="1032.05" y="909.7" width="1" height="22.8"/><rect x="1035.17" y="911.3" width="1" height="21.2"/><rect x="1038.30" y="906.9" width="1" height="25.6"/><rect x="1041.42" y="917.6" width="1" height="14.9"/><rect x="1044.55" y="919.1" width="1" height="13.4"/><rect x="1047.67" y="913.9" width="1" height="18.6"/><rect x="1050.80" y="904.5" width="1" height="28.0"/><rect x="1053.92" y="918.3" width="1" height="14.2"/><rect x="1057.04" y="916.0" width="1" height="16.5"/><rect x="1060.17" y="913.9" width="1" height="18.6"/><rect x="1063.29" y="917.1" width="1" height="15.4"/><rect x="1066.42" y="920.0" width="1" height="12.5"/><rect x="1069.54" y="912.9" width="1" height="19.6"/><rect x="1072.67" y="911.0" width="1" height="21.5"/><rect x="1075.79" y="918.1" width="1" height="14.4"/><rect x="1078.92" y="923.2" width="1" height="9.3"/><rect x="1082.04" y="923.8" width="1" height="8.7"/><rect x="1085.16" y="912.5" width="1" height="20.0"/><rect x="1088.29" y="923.7" width="1" height="8.8"/><rect x="1091.41" y="914.7" width="1" height="17.8"/><rect x="1094.54" y="916.5" width="1" height="16.0"/><rect x="1097.66" y="920.1" width="1" height="12.4"/><rect x="1100.79" y="914.4" width="1" height="18.1"/><rect x="1103.91" y="907.5" width="1" height="25.0"/><rect x="1107.04" y="924.9" width="1" height="7.6"/><rect x="1110.16" y="922.9" width="1" height="9.6"/><rect x="1113.28" y="926.7" width="1" height="5.8"/><rect x="1116.41" y="919.1" width="1" height="13.4"/><rect x="1119.53" y="924.5" width="1" height="8.0"/><rect x="1122.66" y="925.3" width="1" height="7.2"/><rect x="1125.78" y="926.1" width="1" height="6.4"/><rect x="1128.91" y="920.3" width="1" height="12.2"/><rect x="1132.03" y="921.5" width="1" height="11.0"/><rect x="1135.16" y="918.9" width="1" height="13.6"/><rect x="1138.28" y="918.0" width="1" height="14.5"/><rect x="1141.40" y="915.4" width="1" height="17.1"/><rect x="1144.53" y="912.7" width="1" height="19.8"/><rect x="1147.65" y="915.4" width="1" height="17.1"/><rect x="1150.78" y="921.5" width="1" height="11.0"/><rect x="1153.90" y="917.6" width="1" height="14.9"/><rect x="1157.03" y="921.5" width="1" height="11.0"/><rect x="1160.15" y="923.8" width="1" height="8.7"/><rect x="1163.28" y="917.1" width="1" height="15.4"/><rect x="1166.40" y="913.5" width="1" height="19.0"/></g>
<line x1="106.3" x2="106.3" y1="933" y2="944" stroke="#e8ebf0" stroke-width="1"/><line x1="237.2" x2="237.2" y1="933" y2="944" stroke="#e8ebf0" stroke-width="1"/><line x1="368.1" x2="368.1" y1="933" y2="944" stroke="#e8ebf0" stroke-width="1"/><line x1="499.00000000000006" x2="499.00000000000006" y1="933" y2="944" stroke="#e8ebf0" stroke-width="1"/><line x1="629.9" x2="629.9" y1="933" y2="944" stroke="#e8ebf0" stroke-width="1"/><line x1="760.8" x2="760.8" y1="933" y2="944" stroke="#e8ebf0" stroke-width="1"/><line x1="891.7" x2="891.7" y1="933" y2="944" stroke="#e8ebf0" stroke-width="1"/><line x1="1022.6" x2="1022.6" y1="933" y2="944" stroke="#e8ebf0" stroke-width="1"/><line x1="1153.5" x2="1153.5" y1="933" y2="944" stroke="#e8ebf0" stroke-width="1"/>
<g font-family="Liberation Sans, sans-serif" font-size="19" fill="#64748b"><text x="107.25" y="961.4" text-anchor="middle" textLength="53.3" lengthAdjust="spacingAndGlyphs">6. Jan</text><text x="238.20" y="961.4" text-anchor="middle" textLength="60.3" lengthAdjust="spacingAndGlyphs">17. Feb</text><text x="369.25" y="961.4" text-anchor="middle" textLength="63.8" lengthAdjust="spacingAndGlyphs">31. Mar</text><text x="499.75" y="961.4" text-anchor="middle" textLength="65.8" lengthAdjust="spacingAndGlyphs">12. May</text><text x="630.60" y="961.4" text-anchor="middle" textLength="64.0" lengthAdjust="spacingAndGlyphs">23. Jun</text><text x="761.90" y="961.4" text-anchor="middle" textLength="56.5" lengthAdjust="spacingAndGlyphs">4. Aug</text><text x="892.50" y="961.4" text-anchor="middle" textLength="62.3" lengthAdjust="spacingAndGlyphs">15. Sep</text><text x="1023.60" y="961.4" text-anchor="middle" textLength="63.7" lengthAdjust="spacingAndGlyphs">27. Oct</text><text x="1154.60" y="961.4" text-anchor="middle" textLength="56.3" lengthAdjust="spacingAndGlyphs">8. Dec</text><text x="1192.4" y="222.2" textLength="46" lengthAdjust="spacing">$1.20</text><text x="1192.4" y="336.2" textLength="46" lengthAdjust="spacing">$1.00</text><text x="1192.4" y="448.4" textLength="38.6" lengthAdjust="spacing">$0.8</text><text x="1192.4" y="562.3" textLength="38.6" lengthAdjust="spacing">$0.6</text><text x="1192.4" y="674.8" textLength="38.6" lengthAdjust="spacing">$0.4</text><text x="1192.4" y="788.3" textLength="38.6" lengthAdjust="spacing">$0.2</text></g>
<g font-family="Liberation Sans, sans-serif"><path d="M447.5,800 H458.9 L464.2,794.3 L469.5,800 H482.09999999999997 Q488.9,800 488.9,806.8 V822.2 Q488.9,829 482.09999999999997,829 H447.5 Q440.7,829 440.7,822.2 V806.8 Q440.7,800 447.5,800 Z" fill="#32c553"/><path d="M450.40,807 Q450.40,805.5 451.90,805.5 H464.80 Q466.30,805.5 466.30,807 V820.8 Q466.30,822.3 464.80,822.3 H449.30 Q447.10,822.3 447.10,820.1 V808.6 Q447.10,808 447.70,808 H450.40 Z" fill="#fff"/><path d="M450.20,808.2 V819.4" stroke="#32c553" stroke-width="0.7" fill="none"/><rect x="452.90" y="808" width="6.4" height="4.6" rx="0.9" fill="#32c553"/><rect x="461.00" y="808.0" width="2.7" height="1.0" fill="#32c553"/><rect x="461.00" y="811.4" width="2.7" height="1.0" fill="#32c553"/><rect x="453.10" y="815.0" width="10.9" height="1.1" fill="#32c553"/><rect x="453.10" y="818.7" width="10.9" height="1.1" fill="#32c553"/><text x="471.10" y="821.0" fill="#fff" font-weight="700" font-size="19.3" textLength="11.20" lengthAdjust="spacingAndGlyphs">6</text><path d="M540.8,800 H556.2 L561.5,794.3 L566.8,800 H583.2 Q590,800 590,806.8 V822.2 Q590,829 583.2,829 H540.8 Q534,829 534,822.2 V806.8 Q534,800 540.8,800 Z" fill="#32c553"/><path d="M543.70,807 Q543.70,805.5 545.20,805.5 H558.10 Q559.60,805.5 559.60,807 V820.8 Q559.60,822.3 558.10,822.3 H542.60 Q540.40,822.3 540.40,820.1 V808.6 Q540.40,808 541.00,808 H543.70 Z" fill="#fff"/><path d="M543.50,808.2 V819.4" stroke="#32c553" stroke-width="0.7" fill="none"/><rect x="546.20" y="808" width="6.4" height="4.6" rx="0.9" fill="#32c553"/><rect x="554.30" y="808.0" width="2.7" height="1.0" fill="#32c553"/><rect x="554.30" y="811.4" width="2.7" height="1.0" fill="#32c553"/><rect x="546.40" y="815.0" width="10.9" height="1.1" fill="#32c553"/><rect x="546.40" y="818.7" width="10.9" height="1.1" fill="#32c553"/><text x="564.40" y="821.0" fill="#fff" font-weight="700" font-size="19.3" textLength="19.00" lengthAdjust="spacingAndGlyphs">41</text><path d="M632.8,800 H650.2 L655.5,794.3 L660.8,800 H679.5 Q686.3,800 686.3,806.8 V822.2 Q686.3,829 679.5,829 H632.8 Q626,829 626,822.2 V806.8 Q626,800 632.8,800 Z" fill="#32c553"/><path d="M635.70,807 Q635.70,805.5 637.20,805.5 H650.10 Q651.60,805.5 651.60,807 V820.8 Q651.60,822.3 650.10,822.3 H634.60 Q632.40,822.3 632.40,820.1 V808.6 Q632.40,808 633.00,808 H635.70 Z" fill="#fff"/><path d="M635.50,808.2 V819.4" stroke="#32c553" stroke-width="0.7" fill="none"/><rect x="638.20" y="808" width="6.4" height="4.6" rx="0.9" fill="#32c553"/><rect x="646.30" y="808.0" width="2.7" height="1.0" fill="#32c553"/><rect x="646.30" y="811.4" width="2.7" height="1.0" fill="#32c553"/><rect x="638.40" y="815.0" width="10.9" height="1.1" fill="#32c553"/><rect x="638.40" y="818.7" width="10.9" height="1.1" fill="#32c553"/><text x="656.40" y="821.0" fill="#fff" font-weight="700" font-size="19.3" textLength="23.30" lengthAdjust="spacingAndGlyphs">30</text><path d="M729.3,800 H746.7 L752,794.3 L757.3,800 H776.2 Q783,800 783,806.8 V822.2 Q783,829 776.2,829 H729.3 Q722.5,829 722.5,822.2 V806.8 Q722.5,800 729.3,800 Z" fill="#32c553"/><path d="M732.20,807 Q732.20,805.5 733.70,805.5 H746.60 Q748.10,805.5 748.10,807 V820.8 Q748.10,822.3 746.60,822.3 H731.10 Q728.90,822.3 728.90,820.1 V808.6 Q728.90,808 729.50,808 H732.20 Z" fill="#fff"/><path d="M732.00,808.2 V819.4" stroke="#32c553" stroke-width="0.7" fill="none"/><rect x="734.70" y="808" width="6.4" height="4.6" rx="0.9" fill="#32c553"/><rect x="742.80" y="808.0" width="2.7" height="1.0" fill="#32c553"/><rect x="742.80" y="811.4" width="2.7" height="1.0" fill="#32c553"/><rect x="734.90" y="815.0" width="10.9" height="1.1" fill="#32c553"/><rect x="734.90" y="818.7" width="10.9" height="1.1" fill="#32c553"/><text x="752.90" y="821.0" fill="#fff" font-weight="700" font-size="19.3" textLength="23.50" lengthAdjust="spacingAndGlyphs">43</text><path d="M827.3,800 H842.7 L848,794.3 L853.3,800 H869.5 Q876.3,800 876.3,806.8 V822.2 Q876.3,829 869.5,829 H827.3 Q820.5,829 820.5,822.2 V806.8 Q820.5,800 827.3,800 Z" fill="#32c553"/><path d="M830.20,807 Q830.20,805.5 831.70,805.5 H844.60 Q846.10,805.5 846.10,807 V820.8 Q846.10,822.3 844.60,822.3 H829.10 Q826.90,822.3 826.90,820.1 V808.6 Q826.90,808 827.50,808 H830.20 Z" fill="#fff"/><path d="M830.00,808.2 V819.4" stroke="#32c553" stroke-width="0.7" fill="none"/><rect x="832.70" y="808" width="6.4" height="4.6" rx="0.9" fill="#32c553"/><rect x="840.80" y="808.0" width="2.7" height="1.0" fill="#32c553"/><rect x="840.80" y="811.4" width="2.7" height="1.0" fill="#32c553"/><rect x="832.90" y="815.0" width="10.9" height="1.1" fill="#32c553"/><rect x="832.90" y="818.7" width="10.9" height="1.1" fill="#32c553"/><text x="850.90" y="821.0" fill="#fff" font-weight="700" font-size="19.3" textLength="18.80" lengthAdjust="spacingAndGlyphs">13</text><path d="M921.8,800 H937.2 L942.5,794.3 L947.8,800 H964.4000000000001 Q971.2,800 971.2,806.8 V822.2 Q971.2,829 964.4000000000001,829 H921.8 Q915,829 915,822.2 V806.8 Q915,800 921.8,800 Z" fill="#32c553"/><path d="M924.70,807 Q924.70,805.5 926.20,805.5 H939.10 Q940.60,805.5 940.60,807 V820.8 Q940.60,822.3 939.10,822.3 H923.60 Q921.40,822.3 921.40,820.1 V808.6 Q921.40,808 922.00,808 H924.70 Z" fill="#fff"/><path d="M924.50,808.2 V819.4" stroke="#32c553" stroke-width="0.7" fill="none"/><rect x="927.20" y="808" width="6.4" height="4.6" rx="0.9" fill="#32c553"/><rect x="935.30" y="808.0" width="2.7" height="1.0" fill="#32c553"/><rect x="935.30" y="811.4" width="2.7" height="1.0" fill="#32c553"/><rect x="927.40" y="815.0" width="10.9" height="1.1" fill="#32c553"/><rect x="927.40" y="818.7" width="10.9" height="1.1" fill="#32c553"/><text x="945.40" y="821.0" fill="#fff" font-weight="700" font-size="19.3" textLength="19.20" lengthAdjust="spacingAndGlyphs">15</text><path d="M1015.4,800 H1032.7 L1038,794.3 L1043.3,800 H1062.1000000000001 Q1068.9,800 1068.9,806.8 V822.2 Q1068.9,829 1062.1000000000001,829 H1015.4 Q1008.6,829 1008.6,822.2 V806.8 Q1008.6,800 1015.4,800 Z" fill="#32c553"/><path d="M1018.30,807 Q1018.30,805.5 1019.80,805.5 H1032.70 Q1034.20,805.5 1034.20,807 V820.8 Q1034.20,822.3 1032.70,822.3 H1017.20 Q1015.00,822.3 1015.00,820.1 V808.6 Q1015.00,808 1015.60,808 H1018.30 Z" fill="#fff"/><path d="M1018.10,808.2 V819.4" stroke="#32c553" stroke-width="0.7" fill="none"/><rect x="1020.80" y="808" width="6.4" height="4.6" rx="0.9" fill="#32c553"/><rect x="1028.90" y="808.0" width="2.7" height="1.0" fill="#32c553"/><rect x="1028.90" y="811.4" width="2.7" height="1.0" fill="#32c553"/><rect x="1021.00" y="815.0" width="10.9" height="1.1" fill="#32c553"/><rect x="1021.00" y="818.7" width="10.9" height="1.1" fill="#32c553"/><text x="1039.00" y="821.0" fill="#fff" font-weight="700" font-size="19.3" textLength="23.30" lengthAdjust="spacingAndGlyphs">24</text><path d="M1114.8,800 H1126.9 L1132.2,794.3 L1137.5,800 H1149.8 Q1156.6,800 1156.6,806.8 V822.2 Q1156.6,829 1149.8,829 H1114.8 Q1108,829 1108,822.2 V806.8 Q1108,800 1114.8,800 Z" fill="#32c553"/><path d="M1117.70,807 Q1117.70,805.5 1119.20,805.5 H1132.10 Q1133.60,805.5 1133.60,807 V820.8 Q1133.60,822.3 1132.10,822.3 H1116.60 Q1114.40,822.3 1114.40,820.1 V808.6 Q1114.40,808 1115.00,808 H1117.70 Z" fill="#fff"/><path d="M1117.50,808.2 V819.4" stroke="#32c553" stroke-width="0.7" fill="none"/><rect x="1120.20" y="808" width="6.4" height="4.6" rx="0.9" fill="#32c553"/><rect x="1128.30" y="808.0" width="2.7" height="1.0" fill="#32c553"/><rect x="1128.30" y="811.4" width="2.7" height="1.0" fill="#32c553"/><rect x="1120.40" y="815.0" width="10.9" height="1.1" fill="#32c553"/><rect x="1120.40" y="818.7" width="10.9" height="1.1" fill="#32c553"/><text x="1138.40" y="821.0" fill="#fff" font-weight="700" font-size="19.3" textLength="11.60" lengthAdjust="spacingAndGlyphs">5</text></g>
<!-- watermark -->
<g>
<circle cx="1011.3" cy="745.7" r="17.3" fill="#fdefac"/>
<path d="M998,755 C997.3,750 997.8,745.8 999.5,742.4 C1001,739 1003.2,736.7 1006.2,736.1 C1011,735.2 1017,735.5 1021,737.3 C1023.6,738.7 1025.3,741 1024.6,742.9 C1023.2,746 1019.9,747.1 1018.4,749.4 C1016.8,752 1016.3,755 1015.7,758 L1014.9,761.6 A16.3,16.3 0 0 1 998,755 Z" fill="#99e771"/>
<circle cx="1008.5" cy="741.3" r="2.7" fill="#fff"/>
<circle cx="1010.1" cy="741.3" r="1.5" fill="#4a4a4a"/>
</g>
<text x="1041" y="751.9" font-family="Liberation Sans, sans-serif" font-weight="700" font-size="22.4" fill="#808080" textLength="111" lengthAdjust="spacingAndGlyphs">coingecko</text>
</svg>

<!-- scroll to top -->
<div style="position:absolute;left:1181.5px;top:914.2px;width:66px;height:56.5px;border-radius:11px;background:#eff2f5"></div>
<svg class="ico" style="left:1203px;top:930.5px" width="24" height="24" viewBox="0 0 24 24" fill="none" stroke="#0f172a" stroke-width="2.4" stroke-linecap="round" stroke-linejoin="round"><path d="M5.1,3.25 H18.5"/><path d="M11.8,19.3 V9.6 M6.8,14.6 L11.8,9.4 L16.8,14.6"/></svg>
</body></html>
